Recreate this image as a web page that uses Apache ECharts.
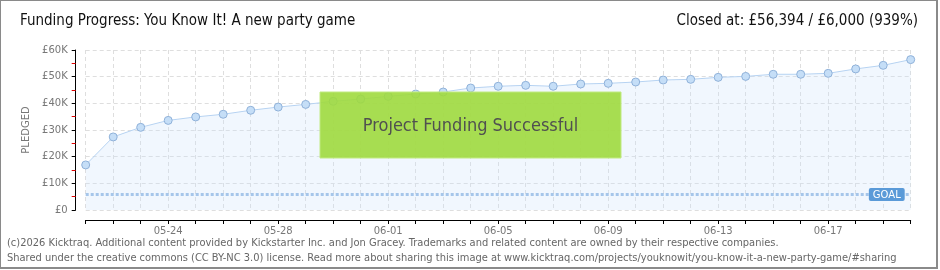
<!DOCTYPE html>
<html><head><meta charset="utf-8">
<script src="https://cdn.jsdelivr.net/npm/echarts@6/dist/echarts.min.js"></script>
<style>
html,body{margin:0;padding:0;background:#fff;}
#frame{position:absolute;left:0;top:0;width:935px;height:266px;border:1px solid #8a8a8a;border-right-width:2px;border-bottom-width:2px;}
#c{position:absolute;left:0;top:0;width:940px;height:270px;}
</style></head>
<body><div id="frame"></div><div id="c"></div>
<script>
const dates = ['05-21','05-22','05-23','05-24','05-25','05-26','05-27','05-28','05-29','05-30','05-31',
  '06-01','06-02','06-03','06-04','06-05','06-06','06-07','06-08','06-09','06-10','06-11','06-12','06-13',
  '06-14','06-15','06-16','06-17','06-18','06-19','06-20'];
const pledged = [16900,27400,31000,33600,34900,35900,37400,38600,39600,40750,41600,
  42600,43500,44250,45750,46400,46750,46400,47250,47500,48000,48750,49000,49750,
  50100,50900,50900,51250,52900,54250,56394];
const goal = 6000;
const yTicks = [0,10000,20000,30000,40000,50000,60000];
const titleLeft = 'Funding Progress: You Know It! A new party game';
const titleRight = 'Closed at: £56,394 / £6,000 (939%)';
const footer1 = '(c)2026 Kicktraq. Additional content provided by Kickstarter Inc. and Jon Gracey. Trademarks and related content are owned by their respective companies.';
const footer2 = 'Shared under the creative commons (CC BY-NC 3.0) license. Read more about sharing this image at www.kicktraq.com/projects/youknowit/you-know-it-a-new-party-game/#sharing';

const chart = echarts.init(document.getElementById('c'), null, {renderer:'canvas'});
const tf = '"Liberation Sans Narrow", "DejaVu Sans Condensed", sans-serif';
chart.setOption({
  animation:false,
  grid:{left:85.7, right:29.3, top:50, bottom:60},
  xAxis:{
    type:'category', data:dates, boundaryGap:false, offset:10,
    axisLine:{onZero:false, lineStyle:{color:'#000', width:1}},
    axisTick:{interval:0, length:4, lineStyle:{color:'#000'}},
    axisLabel:{interval:(i)=>i%4===3, color:'#777', fontSize:10, fontFamily:'DejaVu Sans', margin:6},
    splitLine:{show:true, interval:0, lineStyle:{color:'#dedede', type:[4,3]}}
  },
  yAxis:{
    type:'value', min:yTicks[0], max:yTicks[yTicks.length-1], interval:10000, offset:10,
    name:'PLEDGED', nameLocation:'middle', nameGap:40, nameRotate:90,
    nameTextStyle:{color:'#777', fontSize:10, fontFamily:'DejaVu Sans'},
    axisLine:{show:true, onZero:false, lineStyle:{color:'#000', width:1}},
    axisTick:{show:true, length:4, lineStyle:{color:'#000'}},
    minorTick:{show:true, splitNumber:2, length:4, lineStyle:{color:'#e00000'}},
    axisLabel:{color:'#777', fontSize:10, fontFamily:'DejaVu Sans', margin:8,
      formatter:(v)=> v===0 ? '£0' : '£'+(v/1000)+'K'},
    splitLine:{show:true, lineStyle:{color:'#dedede', type:[4,3]}}
  },
  series:[{
    type:'line', data:pledged, symbol:'circle', symbolSize:8,
    lineStyle:{color:'#b7d3f2', width:1},
    itemStyle:{color:'#c5def7', borderColor:'#8fb1d9', borderWidth:1},
    areaStyle:{color:'rgba(205,226,250,0.4)'},
    z:3,
    markLine:{
      silent:true, symbol:'none',
      lineStyle:{color:'#a6c6ea', width:3, type:[3,2]},
      label:{show:true, position:'insideEndTop', formatter:'GOAL', color:'#fff',
        backgroundColor:'#5a9ad8', borderRadius:2, padding:[2,4,1,4], fontSize:10,
        fontFamily:'DejaVu Sans', distance:[6,-7]},
      data:[{yAxis:goal}]
    }
  }],
  graphic:[
    {type:'text', left:20, top:14, style:{text:titleLeft, font:'15px '+tf, fill:'#111'}},
    {type:'text', right:22, top:14, style:{text:titleRight, font:'15px '+tf, fill:'#111'}},
    {type:'rect', shape:{x:320, y:92, width:301, height:66}, style:{fill:'rgba(160,218,62,0.9)', stroke:'#c0ea80', lineWidth:1}, z:10},
    {type:'text', x:470.5, y:126, z:11, style:{text:'Project Funding Successful', font:'18px '+tf,
      fill:'#505050', align:'center', verticalAlign:'middle', textShadowColor:'#fff', textShadowOffsetX:1, textShadowOffsetY:1, textShadowBlur:0}},
    {type:'text', left:7, top:238, style:{text:footer1, font:'11px '+tf, fill:'#666'}},
    {type:'text', left:7, top:253, style:{text:footer2, font:'11px '+tf, fill:'#666'}}
  ]
});
</script></body></html>
